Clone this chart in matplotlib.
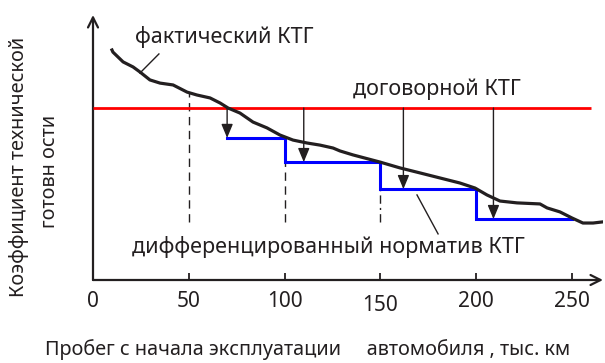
import matplotlib
matplotlib.use('Agg')
import matplotlib.pyplot as plt
import matplotlib.transforms as mtransforms

plt.rcParams['font.family'] = ['Noto Sans', 'DejaVu Sans']

# ---- data ----
mileage = [9.9, 10.4, 15.7, 20.9, 24.5, 29.7, 35.0, 41.8, 49.1, 54.3, 61.1, 66.3,
           70.5, 76.7, 83.5, 90.8, 97.6, 104.4, 111.7, 118.5, 125.3, 128.9, 135.7,
           149.8, 160.2, 170.7, 181.1, 191.5, 199.4, 205.6, 212.4, 221.3, 233.3,
           237.0, 243.7, 250.0, 255.7, 261.0, 265.7]
ktg_actual = [86.8, 86.0, 82.3, 80.4, 78.5, 75.5, 74.3, 73.6, 70.9, 69.8, 68.7, 66.8,
              64.9, 63.0, 59.6, 57.4, 54.7, 52.8, 51.7, 50.9, 49.8, 48.7, 47.2,
              44.5, 42.3, 40.4, 38.5, 36.6, 34.7, 32.1, 29.8, 29.1, 28.7,
              27.2, 25.7, 23.4, 21.5, 21.5, 21.9]
ktg_contract = 64.9
contract_end = 260
norm_edges = [70, 100, 150, 200, 250]
norm_levels = [53.6, 44.5, 34.3, 23.0]
arrow_x = [70, 110, 162, 209]
arrow_target = [53.6, 44.5, 34.3, 23.0]
guide_x = [50, 100, 150]
guide_top = [70.9, 44.5, 34.3]
guide_bottom = 21.9
xticks = [0, 50, 100, 150, 200, 250]
xtick_labels = ['0', '50', '100', '150', '200', '250']

W, H = 605, 363
fig = plt.figure(figsize=(W / 100, H / 100), dpi=100)
ax = fig.add_axes([93 / W, 1 - 280 / H, (603 - 93) / W, (280 - 15) / H])
ax.set_xlim(0, (603 - 93) / 1.916)
ax.set_ylim(0, 100)
for s in ax.spines.values():
    s.set_visible(False)

# axes with arrows
for end in [(1, 0), (0, 1)]:
    ax.annotate('', xy=end, xytext=(0, 0), xycoords='axes fraction',
                arrowprops=dict(arrowstyle='->', lw=1.6, color='#231f20',
                                shrinkA=0, shrinkB=0, mutation_scale=18),
                annotation_clip=False)

ax.set_xticks(xticks)
ax.set_xticklabels(xtick_labels)
ax.set_yticks([])
ax.tick_params(axis='x', direction='in', length=5, width=1.3, color='#231f20',
               pad=8, labelsize=15, labelcolor='#231f20')
tk = ax.xaxis.get_major_ticks()[3]
tk.label1.set_transform(tk.label1.get_transform() +
                        mtransforms.ScaledTranslation(0, -0.04, fig.dpi_scale_trans))

# contract KTG
ax.hlines(ktg_contract, 0, contract_end, color='#ff0000', lw=2.0, zorder=3)

# differentiated norm (steps)
sx, sy = [], []
for i, lvl in enumerate(norm_levels):
    sx += [norm_edges[i], norm_edges[i + 1]]
    sy += [lvl, lvl]
ax.plot(sx, sy, color='#0000ff', lw=2.2, zorder=3, solid_joinstyle='miter')

# actual KTG
ax.plot(mileage, ktg_actual, color='#231f20', lw=2.3, zorder=4)

# guide lines
styles = [(0, (6, 4)), (0, (6, 4)), (0, (6, 3, 1.5, 3))]
for gx, gt, ls in zip(guide_x, guide_top, styles):
    ax.vlines(gx, guide_bottom, gt, color='#231f20', lw=1.0, linestyles=[ls], zorder=2)
ax.vlines(norm_edges[3], norm_levels[2], ktg_actual[28], color='#231f20', lw=1.0)

# arrows from contract to norm
for axx, tgt in zip(arrow_x, arrow_target):
    ax.annotate('', xy=(axx, tgt), xytext=(axx, ktg_contract),
                arrowprops=dict(arrowstyle='-|>,head_length=0.6,head_width=0.25',
                                lw=1.0, color='#231f20',
                                shrinkA=0, shrinkB=0, mutation_scale=14), zorder=5)

# leader lines
ax.plot([34.4, 24.5], [85.3, 78.1], color='#231f20', lw=1.0)
ax.plot([169.1, 180.1], [32.1, 17.4], color='#231f20', lw=1.0)

# labels
tc = '#231f20'
fs = 15.5
ax.text(68.4, 91.7, 'фактический КТГ', fontsize=fs, ha='center', va='center', color=tc)
ax.text(179.5, 72.1, 'договорной КТГ', fontsize=fs, ha='center', va='center', color=tc)
ax.text(122.7, 12.5, 'дифференцированный норматив КТГ', fontsize=fs, ha='center',
        va='center', color=tc)

fig.text(19 / W, 1 - 167 / H, 'Коэффициент технической', rotation=90, fontsize=14.3,
         ha='center', va='center', color=tc)
fig.text(50 / W, 1 - 171 / H, 'готовн ости', rotation=90, fontsize=14.3,
         ha='center', va='center', color=tc)
fig.text(308 / W, 1 - 350 / H, 'Пробег с начала эксплуатации     автомобиля , тыс. км',
         fontsize=14.3, ha='center', va='center', color=tc)

fig.savefig('out.png', dpi=100)
